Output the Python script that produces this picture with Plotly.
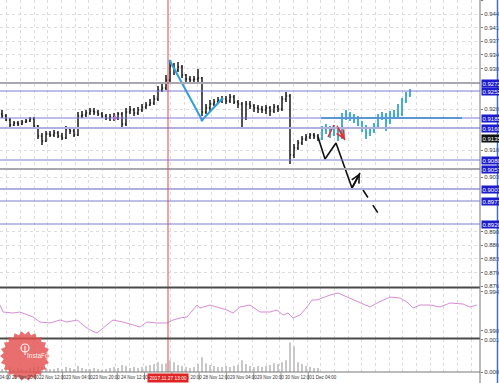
import numpy as np
import plotly.graph_objects as go

# ---------------- data ----------------
black_open = [0.91950, 0.91900, 0.91800, 0.91675, 0.91725, 0.91700, 0.91750, 0.91775, 0.91825, 0.91650,
              0.91400, 0.91275, 0.91450, 0.91425, 0.91475, 0.91400, 0.91350, 0.91575, 0.91525, 0.91425,
              0.91900, 0.91925, 0.91975, 0.92025, 0.92000, 0.91950, 0.91900, 0.91850, 0.91875, 0.91850,
              0.91950, 0.91700, 0.92000, 0.92050, 0.91975, 0.92050, 0.92125, 0.92175, 0.92225, 0.92325,
              0.92550, 0.92600, 0.92800, 0.93150, 0.93050, 0.93125, 0.92925, 0.92825, 0.92800, 0.92825,
              0.92850, 0.92000, 0.92100, 0.92200, 0.92250, 0.92300, 0.92325, 0.92275, 0.92375, 0.92250,
              0.92200, 0.91850, 0.92200, 0.92150, 0.92100, 0.92075, 0.92050, 0.92100, 0.92025, 0.92125,
              0.92075, 0.92325, 0.92400, 0.90925, 0.91100, 0.91225, 0.91325, 0.91375, 0.91425, 0.91400]
black_high = [0.92050, 0.91950, 0.91850, 0.91775, 0.91775, 0.91800, 0.91825, 0.91875, 0.91875, 0.91675,
              0.91475, 0.91525, 0.91525, 0.91550, 0.91525, 0.91475, 0.91650, 0.91625, 0.91600, 0.92000,
              0.92025, 0.92050, 0.92100, 0.92100, 0.92050, 0.92000, 0.91950, 0.91950, 0.91975, 0.92000,
              0.92000, 0.92100, 0.92150, 0.92100, 0.92125, 0.92200, 0.92250, 0.92325, 0.92425, 0.92650,
              0.92700, 0.92925, 0.93250, 0.93225, 0.93250, 0.93175, 0.92950, 0.92900, 0.92900, 0.93075,
              0.92875, 0.92200, 0.92300, 0.92325, 0.92375, 0.92400, 0.92400, 0.92450, 0.92425, 0.92300,
              0.92250, 0.92275, 0.92275, 0.92200, 0.92175, 0.92150, 0.92175, 0.92150, 0.92200, 0.92175,
              0.92400, 0.92500, 0.92450, 0.91200, 0.91300, 0.91400, 0.91450, 0.91475, 0.91475, 0.91450]
black_low = [0.91850, 0.91775, 0.91600, 0.91650, 0.91650, 0.91675, 0.91725, 0.91750, 0.91600, 0.91325,
             0.91175, 0.91250, 0.91375, 0.91375, 0.91350, 0.91300, 0.91325, 0.91450, 0.91375, 0.91400,
             0.91850, 0.91875, 0.91925, 0.91925, 0.91900, 0.91850, 0.91800, 0.91775, 0.91775, 0.91800,
             0.91575, 0.91650, 0.91950, 0.91900, 0.91925, 0.92000, 0.92075, 0.92150, 0.92175, 0.92275,
             0.92500, 0.92550, 0.92750, 0.92925, 0.93000, 0.92850, 0.92750, 0.92725, 0.92750, 0.92750,
             0.91900, 0.91950, 0.92025, 0.92150, 0.92200, 0.92225, 0.92200, 0.92225, 0.92200, 0.92100,
             0.91625, 0.91800, 0.92075, 0.92000, 0.91975, 0.91975, 0.91950, 0.91900, 0.91975, 0.92000,
             0.92025, 0.92250, 0.90700, 0.90850, 0.91050, 0.91175, 0.91275, 0.91325, 0.91325, 0.91275]
black_close = [0.91900, 0.91800, 0.91675, 0.91725, 0.91700, 0.91750, 0.91775, 0.91825, 0.91650, 0.91400,
               0.91275, 0.91450, 0.91425, 0.91475, 0.91400, 0.91350, 0.91575, 0.91525, 0.91425, 0.91900,
               0.91925, 0.91975, 0.92025, 0.92000, 0.91950, 0.91900, 0.91850, 0.91875, 0.91850, 0.91950,
               0.91700, 0.92000, 0.92050, 0.91975, 0.92050, 0.92125, 0.92175, 0.92225, 0.92325, 0.92550,
               0.92600, 0.92800, 0.93150, 0.93050, 0.93125, 0.92925, 0.92825, 0.92800, 0.92825, 0.92850,
               0.92000, 0.92100, 0.92200, 0.92250, 0.92300, 0.92325, 0.92275, 0.92375, 0.92250, 0.92200,
               0.91850, 0.92200, 0.92150, 0.92100, 0.92075, 0.92050, 0.92100, 0.92025, 0.92125, 0.92075,
               0.92325, 0.92400, 0.90925, 0.91100, 0.91225, 0.91325, 0.91375, 0.91425, 0.91400, 0.91350]

cyan_open = [0.91350, 0.91550, 0.91600, 0.91450, 0.91550, 0.91375, 0.91850, 0.91950, 0.91875, 0.91825,
             0.91700, 0.91600, 0.91475, 0.91550, 0.91650, 0.91850, 0.91900, 0.91775, 0.91900, 0.91925,
             0.91950, 0.92275, 0.92425]
cyan_high = [0.91650, 0.91700, 0.91650, 0.91675, 0.91600, 0.91975, 0.92050, 0.92000, 0.91950, 0.91900,
             0.91775, 0.91675, 0.91625, 0.91725, 0.91950, 0.92000, 0.91975, 0.92025, 0.92050, 0.92200,
             0.92350, 0.92500, 0.92575]
cyan_low = [0.91300, 0.91450, 0.91350, 0.91400, 0.91275, 0.91325, 0.91800, 0.91775, 0.91725, 0.91650,
            0.91500, 0.91325, 0.91400, 0.91475, 0.91600, 0.91800, 0.91525, 0.91700, 0.91825, 0.91850,
            0.91900, 0.92225, 0.92375]
cyan_close = [0.91550, 0.91600, 0.91450, 0.91550, 0.91375, 0.91850, 0.91950, 0.91875, 0.91825, 0.91700,
              0.91600, 0.91475, 0.91550, 0.91650, 0.91850, 0.91900, 0.91775, 0.91900, 0.91925, 0.91950,
              0.92275, 0.92425, 0.92525]

volume = [0.00012, 0.00016, 0.00020, 0.00012, 0.00016, 0.00012, 0.00008, 0.00016, 0.00020, 0.00024,
          0.00020, 0.00016, 0.00012, 0.00012, 0.00016, 0.00012, 0.00020, 0.00016, 0.00012, 0.00024,
          0.00016, 0.00012, 0.00012, 0.00016, 0.00012, 0.00008, 0.00012, 0.00016, 0.00020, 0.00016,
          0.00028, 0.00024, 0.00016, 0.00020, 0.00016, 0.00020, 0.00024, 0.00028, 0.00032, 0.00040,
          0.00032, 0.00036, 0.00048, 0.00040, 0.00028, 0.00024, 0.00020, 0.00016, 0.00020, 0.00032,
          0.00060, 0.00036, 0.00028, 0.00024, 0.00020, 0.00020, 0.00024, 0.00020, 0.00024, 0.00028,
          0.00048, 0.00032, 0.00024, 0.00020, 0.00024, 0.00020, 0.00024, 0.00028, 0.00036, 0.00032,
          0.00040, 0.00048, 0.00120, 0.00104, 0.00040, 0.00032, 0.00024, 0.00020, 0.00016, 0.00016]

ind_x = [-0.5, 0.25, 2.75, 4.5, 7.75, 9.5, 12, 14.5, 16.25, 18.75, 20.25, 22, 23.75, 25.25, 27.75,
         30.25, 32.75, 34.5, 36.25, 38.75, 41.25, 42.75, 44.5, 46.25, 48.75, 49.5, 52, 53.75, 56.25,
         57.75, 59.5, 62, 64.5, 67, 68.75, 70.25, 71.5, 72.75, 74.5, 76.25, 77.5, 78.75, 82, 84, 86.25,
         89.5, 92, 93.75, 97, 99.5, 101.25, 102.75, 104.5, 107, 109.5, 112, 115.25, 117, 118.75]
ind_val = [0.9928, 0.9921, 0.9920, 0.9921, 0.9916, 0.9911, 0.9910, 0.9913, 0.9911, 0.9913, 0.9908,
           0.9903, 0.9900, 0.9905, 0.9913, 0.9911, 0.9908, 0.9906, 0.9911, 0.9910, 0.9910, 0.9913,
           0.9915, 0.9916, 0.9928, 0.9925, 0.9928, 0.9926, 0.9923, 0.9920, 0.9926, 0.9928, 0.9921,
           0.9921, 0.9923, 0.9918, 0.9920, 0.9915, 0.9918, 0.9926, 0.9933, 0.9933, 0.9938, 0.9940,
           0.9936, 0.9931, 0.9926, 0.9930, 0.9936, 0.9935, 0.9931, 0.9925, 0.9928, 0.9928, 0.9926,
           0.9930, 0.9929, 0.9926, 0.9928]

levels_blue = [0.92525, 0.91850, 0.90800, 0.89775, 0.89200]
levels_gray = [0.92725, 0.90575]
levels_lavender = [0.91600, 0.90075]

zigzag_x = [42.0, 50.0, 55.0]
zigzag_y = [0.93275, 0.91800, 0.92325]
fc_solid_x = [79.0, 80.75, 83.5, 87.5, 89.5]
fc_solid_y = [0.91375, 0.90825, 0.91225, 0.90100, 0.90475]
fc_dash_x = [90.25, 94.0]
fc_dash_y = [0.90050, 0.89475]
red1_x = [81.5, 83.0]
red1_y = [0.91375, 0.91675]
red2_x = [83.75, 85.75]
red2_y = [0.91650, 0.91300]
cyan_level_x = [79.75, 115.0]
cyan_level_y = 0.91850
darkred_x = [44.75, 83.75]
darkred_y = 0.90575
marker_x = [28.25]
marker_y = [0.91850]
vline_x = 41.5
vline_label = "2017.11.27 13:00"

date_labels = ["21 Nov 04:00", "21 Nov 20:00", "22 Nov 12:00", "23 Nov 04:00", "23 Nov 20:00",
               "24 Nov 12:00", "27 Nov 04:00", "27 Nov 20:00", "28 Nov 12:00", "29 Nov 04:00",
               "29 Nov 20:00", "30 Nov 12:00", "1 Dec 04:00"]
date_pos = [-4.95, 1.875, 8.7, 15.525, 22.35, 29.175, 36.0, 42.825, 49.65, 56.475, 63.3, 70.125, 76.95]

# ---------------- layout geometry ----------------
W, H = 499, 383
MR, MB = 19, 11
PW, PH = W - MR, H - MB  # 480 x 372
XR = [-0.5, 119.5]
Y_TOP, Y_PER_PX, MAIN_PX = 0.9480, 0.00025, 287


def py(p):  # pixel from top -> paper y
    return (PH - p) / PH


def px(p):
    return p / PW


FONT = "Liberation Sans Narrow, Liberation Sans, Arial, sans-serif"

fig = go.Figure()

nb = len(black_close)
xb = list(range(nb))
xc = list(range(nb, nb + len(cyan_close)))

fig.add_trace(go.Ohlc(x=xb, open=black_open, high=black_high, low=black_low, close=black_close,
                      increasing=dict(line=dict(color="#1a1a1a", width=1.5)),
                      decreasing=dict(line=dict(color="#1a1a1a", width=1.5)),
                      tickwidth=0.28, yaxis="y", hoverinfo="skip"))
fig.add_trace(go.Ohlc(x=xc, open=cyan_open, high=cyan_high, low=cyan_low, close=cyan_close,
                      increasing=dict(line=dict(color="#35a7cc", width=1.8)),
                      decreasing=dict(line=dict(color="#35a7cc", width=1.8)),
                      tickwidth=0.28, yaxis="y", hoverinfo="skip"))

# analyst drawings
fig.add_trace(go.Scatter(x=cyan_level_x, y=[cyan_level_y, cyan_level_y],
                         mode="lines", line=dict(color="#3bb0d6", width=2), yaxis="y"))
fig.add_trace(go.Scatter(x=darkred_x, y=[darkred_y, darkred_y], mode="lines",
                         line=dict(color="#b0202e", width=2), yaxis="y"))
fig.add_trace(go.Scatter(x=zigzag_x, y=zigzag_y, mode="lines+markers",
                         line=dict(color="#2f9fd8", width=2), marker=dict(size=3, color="#2f9fd8"), yaxis="y"))
fig.add_trace(go.Scatter(x=fc_solid_x, y=fc_solid_y, mode="lines",
                         line=dict(color="#111111", width=1.6), yaxis="y"))
fig.add_trace(go.Scatter(x=fc_dash_x, y=fc_dash_y, mode="lines",
                         line=dict(color="#111111", width=1.6, dash="dash"), yaxis="y"))
fig.add_trace(go.Scatter(x=red1_x, y=red1_y, mode="lines", line=dict(color="#e03030", width=1.6), yaxis="y"))
fig.add_trace(go.Scatter(x=red2_x, y=red2_y, mode="lines", line=dict(color="#e03030", width=1.6), yaxis="y"))
fig.add_trace(go.Scatter(x=marker_x, y=marker_y, mode="markers",
                         marker=dict(symbol="diamond", size=4, color="#e070e0"), yaxis="y"))

# indicator
fig.add_trace(go.Scatter(x=ind_x, y=ind_val, mode="lines", line=dict(color="#d98bd9", width=1), yaxis="y2"))
# volume
fig.add_trace(go.Bar(x=xb, y=volume, marker=dict(color="#c8c8c8", line=dict(width=0)), width=0.35, yaxis="y3"))

shapes = []
for v in levels_gray:
    shapes.append(dict(type="line", xref="paper", x0=0, x1=1, yref="y", y0=v, y1=v,
                       line=dict(color="#a8a8b0", width=2)))
for v in levels_lavender:
    shapes.append(dict(type="line", xref="paper", x0=0, x1=1, yref="y", y0=v, y1=v,
                       line=dict(color="#b0b0e0", width=2)))
for v in levels_blue:
    shapes.append(dict(type="line", xref="paper", x0=0, x1=1, yref="y", y0=v, y1=v,
                       line=dict(color="#7d7dd4", width=1)))
shapes.append(dict(type="line", xref="x", x0=vline_x, x1=vline_x, yref="paper", y0=0, y1=1,
                   line=dict(color="#e04848", width=1)))
for p in (287.5, 338.5):
    shapes.append(dict(type="line", xref="paper", x0=0, x1=1, yref="paper", y0=py(p), y1=py(p),
                       line=dict(color="#4a4a4a", width=2)))
shapes.append(dict(type="line", xref="paper", x0=0, x1=1, yref="paper", y0=0, y1=0,
                   line=dict(color="#777777", width=1)))
shapes.append(dict(type="line", xref="paper", x0=1, x1=1, yref="paper", y0=py(383), y1=1,
                   line=dict(color="#777777", width=1)))
shapes.append(dict(type="line", xref="paper", x0=px(497.5), x1=px(497.5), yref="paper", y0=py(383), y1=1,
                   line=dict(color="#3a6fd8", width=1.5)))
for u in date_pos:
    xp = (u + 0.5) / (XR[1] - XR[0]) - 1.5 / PW
    shapes.append(dict(type="line", xref="paper", x0=xp, x1=xp, yref="paper", y0=0, y1=py(380),
                       line=dict(color="#999999", width=1)))

# watermark starburst
cx, cy, R, r, n = 25, 356, 25, 21.5, 22
pts = []
for k in range(2 * n):
    a = np.pi * k / n
    rad = R if k % 2 == 0 else r
    pts.append((px(cx + rad * np.cos(a)), py(cy + rad * np.sin(a))))
path = "M " + " L ".join(f"{a:.5f},{b:.5f}" for a, b in pts) + " Z"
shapes.append(dict(type="path", xref="paper", yref="paper", path=path,
                   fillcolor="rgba(228,78,78,0.82)", line=dict(width=0)))
shapes.append(dict(type="circle", xref="paper", yref="paper", x0=px(21), x1=px(29), y0=py(352), y1=py(344),
                   line=dict(color="rgba(255,255,255,0.9)", width=1.2)))
shapes.append(dict(type="line", xref="paper", yref="paper", x0=px(25), x1=px(25), y0=py(355), y1=py(346),
                   line=dict(color="rgba(255,255,255,0.9)", width=1.2)))

annotations = []
annotations.append(dict(x=fc_solid_x[-1], y=fc_solid_y[-1], ax=fc_solid_x[-2], ay=fc_solid_y[-2],
                        xref="x", yref="y", axref="x", ayref="y", showarrow=True, arrowhead=5,
                        arrowsize=1, arrowwidth=1.6, arrowcolor="#111111", text=""))
annotations.append(dict(x=fc_dash_x[-1], y=fc_dash_y[-1], ax=fc_dash_x[-1] - 0.5,
                        ay=fc_dash_y[-1] + (fc_dash_y[0] - fc_dash_y[-1]) * 0.5 / (fc_dash_x[-1] - fc_dash_x[0]),
                        xref="x", yref="y", axref="x", ayref="y", showarrow=True, arrowhead=5,
                        arrowsize=1, arrowwidth=1.6, arrowcolor="#111111", text=""))
annotations.append(dict(x=red2_x[-1], y=red2_y[-1], ax=red2_x[0], ay=red2_y[0],
                        xref="x", yref="y", axref="x", ayref="y", showarrow=True, arrowhead=5,
                        arrowsize=1, arrowwidth=1.6, arrowcolor="#e03030", text=""))

label_levels = levels_gray + levels_lavender + levels_blue
for v in label_levels:
    annotations.append(dict(x=1, xref="paper", y=v, yref="y", xanchor="left", xshift=1,
                            text=f"{v:.5f}", showarrow=False, bgcolor="#1c1ccc", borderpad=0.5,
                            font=dict(family=FONT, size=6, color="white")))
annotations.append(dict(x=1, xref="paper", y=black_close[-1], yref="y", xanchor="left", xshift=1,
                        text=f"{black_close[-1]:.5f}", showarrow=False, bgcolor="#111111", borderpad=0.5,
                        font=dict(family=FONT, size=6, color="white")))

for u, t in zip(date_pos, date_labels):
    annotations.append(dict(x=(u + 0.5) / (XR[1] - XR[0]), xref="paper", y=0, yref="paper",
                            xanchor="left", yanchor="top", yshift=-1, text=t, showarrow=False,
                            font=dict(family=FONT, size=4.5, color="#333333")))
annotations.append(dict(x=vline_x, xref="x", y=0, yref="paper", xanchor="center", yanchor="top",
                        yshift=-0.5, text=vline_label, showarrow=False, bgcolor="#e02424", borderpad=1.5,
                        font=dict(family=FONT, size=4.8, color="white")))
annotations.append(dict(x=px(25), xref="paper", y=py(361), yref="paper", text="InstaForex",
                        showarrow=False, font=dict(family="Liberation Sans, Arial", size=6.5,
                                                   color="rgba(255,255,255,0.95)")))

# main price ticks: MT4 hides regular labels covered by level labels
all_ticks = [round(0.8765 + 0.0034 * k, 5) for k in range(21)] + [0.9479]
boxed = label_levels + [black_close[-1]]
main_ticks = [t for t in all_ticks if min(abs(t - b) for b in boxed) / Y_PER_PX > 6]

tick_font = dict(family=FONT, size=6, color="#333333")
fig.update_layout(
    width=W, height=H, margin=dict(l=0, r=MR, t=0, b=MB, pad=0, autoexpand=False),
    paper_bgcolor="white", plot_bgcolor="white", showlegend=False, hovermode=False,
    xaxis=dict(range=XR, domain=[0, 1], anchor="y3", showticklabels=False, ticks="",
               tickmode="linear", tick0=1.175, dtick=3.415, showgrid=True, automargin=False,
               gridcolor="#dcdcdc", griddash="dot", gridwidth=1, zeroline=False,
               rangeslider=dict(visible=False), showline=False),
    yaxis=dict(domain=[py(MAIN_PX), 1], range=[Y_TOP - Y_PER_PX * MAIN_PX, Y_TOP], anchor="x", side="right",
               tickmode="array", tickvals=main_ticks, tickformat=".5f", tickfont=tick_font,
               ticks="outside", ticklen=2, tickcolor="#777", showgrid=True, gridcolor="#dcdcdc",
               griddash="dot", zeroline=False, showline=False, automargin=False),
    yaxis2=dict(domain=[py(338), py(288)], range=[0.9895, 0.9945], anchor="x", side="right",
                tickvals=[0.99415, 0.99025], tickformat=".5f", tickfont=tick_font, automargin=False,
                ticks="outside", ticklen=2, tickcolor="#777", showgrid=False, zeroline=False),
    yaxis3=dict(domain=[0, py(339)], range=[0, 0.00134], anchor="x", side="right",
                tickvals=[0.00131, 0.0], tickformat=".5f", tickfont=tick_font, automargin=False,
                ticks="outside", ticklen=2, tickcolor="#777", showgrid=False, zeroline=False),
    shapes=shapes, annotations=annotations,
)

fig.write_html("out.html")
